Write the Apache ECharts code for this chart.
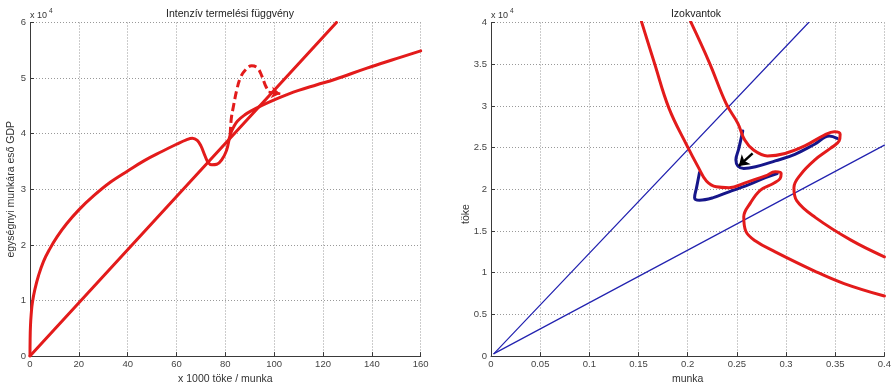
<!DOCTYPE html>
<html><head><meta charset="utf-8">
<script src="https://cdn.jsdelivr.net/npm/echarts@6/dist/echarts.min.js"></script>
<style>html,body{margin:0;padding:0;background:#fff}#c{width:894px;height:390px}</style>
</head><body><div id="c"></div>
<script>
// ---- tick labels ----
const leftXTicks = ['0','20','40','60','80','100','120','140','160'];
const leftYTicks = ['0','1','2','3','4','5','6'];
const rightXTicks = ['0','0.05','0.1','0.15','0.2','0.25','0.3','0.35','0.4'];
const rightYTicks = ['0','0.5','1','1.5','2','2.5','3','3.5','4'];

// ---- left panel (x: 1000 tőke / munka, y: GDP per worker x1e4) ----
const gdpCurve = [[0,0],[0.05,0.3],[0.2,0.55],[0.5,0.76],[1,0.97],[2,1.2],[3.5,1.45],[5.5,1.7],[8,1.92],[11,2.14],[15,2.38],[20,2.63],[26,2.88],[33,3.13],[40,3.33],[47,3.52],[54,3.68],[60,3.81],[64,3.89],[66.5,3.92],[68.5,3.88],[70,3.78],[71.5,3.62],[73,3.48],[74.5,3.44],[76.5,3.45],[78.5,3.53],[80.5,3.7],[82,3.98],[83.5,4.13],[85,4.23],[88,4.34],[91,4.42],[95,4.51],[100,4.61],[105,4.7],[110,4.78],[117.5,4.88],[125,4.98],[138,5.18],[150,5.35],[160,5.49]];
const gdpDashed = [[82,3.98],[82.4,4.26],[83.3,4.49],[84.7,4.79],[86.1,5.0],[88.1,5.14],[90.8,5.22],[93.2,5.18],[95,5.03],[96.3,4.88],[97.7,4.76]];
const gdpArrow = [[97.7,4.75],[102.5,4.72]];
const capitalRay = [[0,0],[125.5,6.0]];

// ---- right panel (x: munka, y: tőke x1e4) ----
const isoRaySteep = [[0.003,0.03],[0.323,4.0]];
const isoRayFlat = [[0.003,0.03],[0.4,2.53]];
const isoRedA = [[0.153,4.01],[0.166,3.52],[0.181,2.97],[0.199,2.53],[0.211,2.26],[0.219,2.1],[0.229,2.03],[0.242,2.02],[0.259,2.08],[0.279,2.16],[0.289,2.21],[0.295,2.19],[0.294,2.13],[0.287,2.07],[0.274,1.99],[0.264,1.84],[0.257,1.67],[0.259,1.5],[0.269,1.38],[0.289,1.25],[0.329,1.02],[0.359,0.87],[0.4,0.72]];
const isoRedB = [[0.203,4.01],[0.222,3.52],[0.239,3.03],[0.251,2.79],[0.258,2.59],[0.267,2.47],[0.281,2.4],[0.299,2.43],[0.319,2.52],[0.339,2.65],[0.349,2.69],[0.355,2.66],[0.354,2.58],[0.345,2.49],[0.329,2.35],[0.315,2.18],[0.308,2.02],[0.311,1.86],[0.33,1.66],[0.366,1.39],[0.4,1.19]];
const isoBlueUpper = [[0.256,2.7],[0.252,2.49],[0.249,2.35],[0.251,2.28],[0.257,2.25],[0.269,2.27],[0.289,2.34],[0.309,2.42],[0.329,2.54],[0.344,2.64],[0.352,2.61]];
const isoBlueLower = [[0.212,2.2],[0.209,2.02],[0.207,1.9],[0.212,1.87],[0.226,1.9],[0.242,1.97],[0.259,2.04],[0.279,2.14],[0.291,2.19]];
const isoArrow = [[0.266,2.43],[0.252,2.28]];

const RED = '#e31b1b', NAVY = '#16168a', BLUE = '#2323b0';
const FONT = "'Liberation Sans', Arial, sans-serif";

function fmt(list) {
  return function (v) {
    for (const s of list) if (Math.abs(parseFloat(s) - v) < 1e-9) return s;
    return '';
  };
}
function xAx(gi, min, max, iv, ticks, name) {
  return {
    type: 'value', gridIndex: gi, min: min, max: max, interval: iv,
    name: name, nameLocation: 'middle', nameGap: 15,
    nameTextStyle: {fontFamily: FONT, fontSize: 10.5, color: '#333'},
    axisLine: {show: true, onZero: false, lineStyle: {color: '#3a3a3a', width: 1}},
    axisTick: {show: true, inside: true, length: 4, lineStyle: {color: '#3a3a3a'}},
    axisLabel: {formatter: fmt(ticks), fontFamily: FONT, fontSize: 9.5, color: '#444', margin: 3, showMaxLabel: true, showMinLabel: true},
    splitLine: {show: true, lineStyle: {color: '#999', type: [1, 2], width: 1}}
  };
}
function yAx(gi, min, max, iv, ticks, name, gap) {
  return {
    type: 'value', gridIndex: gi, min: min, max: max, interval: iv,
    name: name, nameLocation: 'middle', nameGap: gap, nameRotate: 90,
    nameTextStyle: {fontFamily: FONT, fontSize: 10.5, color: '#333'},
    axisLine: {show: true, onZero: false, lineStyle: {color: '#3a3a3a', width: 1}},
    axisTick: {show: true, inside: true, length: 4, lineStyle: {color: '#3a3a3a'}},
    axisLabel: {formatter: fmt(ticks), fontFamily: FONT, fontSize: 9.5, color: '#444', margin: 4},
    splitLine: {show: true, lineStyle: {color: '#999', type: [1, 2], width: 1}}
  };
}
function ln(xi, data, color, width, extra) {
  return Object.assign({
    type: 'line', xAxisIndex: xi, yAxisIndex: xi, data: data, showSymbol: false, symbol: 'none',
    smooth: 0.4, animation: false, silent: true,
    lineStyle: {color: color, width: width, cap: 'round', join: 'round'}
  }, extra || {});
}
function arrow(xi, pts, color, width, size) {
  return {
    type: 'line', xAxisIndex: xi, yAxisIndex: xi, data: [], animation: false, silent: true,
    markLine: {
      silent: true, animation: false, symbol: ['none', 'arrow'], symbolSize: size,
      label: {show: false},
      lineStyle: {color: color, width: width, type: 'solid'},
      data: [[{coord: pts[0]}, {coord: pts[1]}]]
    }
  };
}

const chart = echarts.init(document.getElementById('c'), null, {renderer: 'canvas'});
chart.setOption({
  animation: false,
  backgroundColor: '#fff',
  title: [
    {text: 'Intenzív termelési függvény', left: 225, top: 4, textAlign: 'center',
     textStyle: {fontFamily: FONT, fontSize: 10.5, fontWeight: 'normal', color: '#222'}},
    {text: 'Izokvantok', left: 691, top: 4, textAlign: 'center',
     textStyle: {fontFamily: FONT, fontSize: 10.5, fontWeight: 'normal', color: '#222'}}
  ],
  graphic: [
    {type: 'text', left: 30, top: 11, style: {text: 'x 10', font: "9px 'Liberation Sans', Arial", fill: '#333'}},
    {type: 'text', left: 49, top: 8, style: {text: '4', font: "6.5px 'Liberation Sans', Arial", fill: '#333'}},
    {type: 'text', left: 491, top: 11, style: {text: 'x 10', font: "9px 'Liberation Sans', Arial", fill: '#333'}},
    {type: 'text', left: 510, top: 8, style: {text: '4', font: "6.5px 'Liberation Sans', Arial", fill: '#333'}},
    {type: 'text', x: 461, y: 224, rotation: Math.PI / 2,
     style: {text: 'töke', font: "10.5px 'Liberation Sans', Arial", fill: '#333'}}
  ],
  grid: [
    {left: 30, top: 22.5, width: 390.7, height: 334.8},
    {left: 491, top: 22.5, width: 400, height: 338.5}
  ],
  xAxis: [
    xAx(0, 0, 160, 20, leftXTicks, 'x 1000 töke / munka'),
    xAx(1, 0, 0.4, 0.05, rightXTicks, 'munka')
  ],
  yAxis: [
    yAx(0, 0, 6, 1, leftYTicks, 'egységnyi munkára eső GDP', 9),
    yAx(1, 0, 4, 0.5, rightYTicks, '', 18)
  ],
  series: [
    ln(0, capitalRay, RED, 3, {smooth: false}),
    ln(0, gdpCurve, RED, 3),
    ln(0, gdpDashed, RED, 3, {lineStyle: {color: RED, width: 3, type: [8, 4], cap: 'butt'}}),
    arrow(0, gdpArrow, RED, 2.5, 9),
    ln(1, isoRaySteep, BLUE, 1.2, {smooth: false}),
    ln(1, isoRayFlat, BLUE, 1.2, {smooth: false}),
    ln(1, isoBlueUpper, NAVY, 3),
    ln(1, isoBlueLower, NAVY, 3),
    ln(1, isoRedA, RED, 3),
    ln(1, isoRedB, RED, 3),
    arrow(1, isoArrow, '#000', 2.5, 10)
  ]
});
</script>
</body></html>
